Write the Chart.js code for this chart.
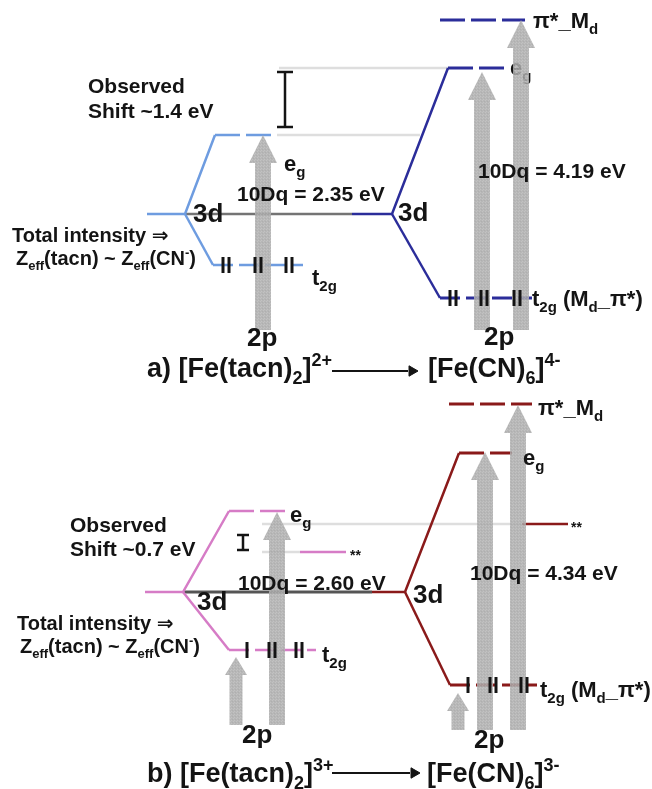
<!DOCTYPE html>
<html>
<head>
<meta charset="utf-8">
<script src="https://cdn.jsdelivr.net/npm/chart.js@4.4.1/dist/chart.umd.min.js"></script>
<style>
  html, body { margin: 0; padding: 0; background: #fff; }
  #wrap { width: 652px; height: 789px; position: relative; }
</style>
</head>
<body>
<div id="wrap"><canvas id="diagram"></canvas></div>
<script>
// Energy level diagram drawn on a scatter chart whose hidden axes span the
// whole canvas (x right, y down), so every level / arrow / label sits in
// diagram units.

// ---- panel a: [Fe(tacn)2]2+ -> [Fe(CN)6]4- ----
const aTacnUpper = [[147, 214], [185, 214], [215, 135]];
const aTacnLower = [[185, 214], [213, 265]];
const aTacnEg = [[215, 135], [277, 135]];
const aTacnT2g = [[213, 265], [303, 265]];
const a3dBridge = [[185, 214], [352, 214]];
const aCnUpper = [[352, 214], [392, 214], [448, 68]];
const aCnLower = [[392, 214], [440, 298]];
const aCnEg = [[448, 68], [505, 68]];
const aCnT2g = [[440, 298], [532, 298]];
const aCnPi = [[440, 20], [525, 20]];
const aGuides = [[[279, 68], [448, 68]], [[277, 135], [420, 135]]];
const aTacnElectrons = [[226, 265, 2], [258, 265, 2], [289, 265, 2]];
const aCnElectrons = [[453, 298, 2], [484, 298, 2], [517, 298, 2]];
const aArrows = [[263, 330, 135], [482, 330, 72], [521, 330, 20]];
const aShift = [285, 72, 127];
const aTitleArrow = [[332, 371], [408, 371]];

// ---- panel b: [Fe(tacn)2]3+ -> [Fe(CN)6]3- ----
const bTacnUpper = [[145, 592], [183, 592], [229, 511]];
const bTacnLower = [[183, 592], [229, 650]];
const bTacnEg = [[229, 511], [288, 511]];
const bTacnT2g = [[229, 650], [316, 650]];
const b3dBridge = [[183, 592], [372, 592]];
const bCnUpper = [[372, 592], [405, 592], [459, 453]];
const bCnLower = [[405, 592], [450, 685]];
const bCnEg = [[459, 453], [512, 453]];
const bCnT2g = [[450, 685], [537, 685]];
const bCnPi = [[449, 404], [532, 404]];
const bTacnStar = [[300, 552], [346, 552]];
const bCnStar = [[522, 524], [568, 524]];
const bGuides = [[[262, 524], [522, 524]], [[262, 552], [300, 552]]];
const bTacnElectrons = [[247, 650, 1], [272, 650, 2], [299, 650, 2]];
const bCnElectrons = [[468, 685, 1], [493, 685, 2], [524, 685, 2]];
const bArrows = [[236, 725, 657], [277, 725, 512], [458, 730, 693], [485, 730, 452], [518, 730, 405]];
const bShift = [243, 535, 550];
const bTitleArrow = [[332, 773], [410, 773]];

// ---- labels: text (with _{sub} / ^{sup}), x, baseline y, font kind ----
const labelsTop = [
  ['Observed', 88, 93, 'mid'],
  ['Shift ~1.4 eV', 88, 118, 'mid'],
  ['e_{g}', 284, 171, 'lvl'],
  ['10Dq = 2.35 eV', 237, 201, 'mid'],
  ['3d', 193, 222, 'big'],
  ['Total intensity \u21D2', 12, 242, 'note'],
  ['Z_{eff}(tacn) ~ Z_{eff}(CN^{-})', 16, 265, 'note'],
  ['t_{2g}', 312, 285, 'lvl'],
  ['2p', 247, 346, 'big'],
  ['\u03C0*_M_{d}', 533, 28, 'lvl'],
  ['10Dq = 4.19 eV', 478, 178, 'mid'],
  ['3d', 398, 221, 'big'],
  ['t_{2g} (M_{d}_\u03C0*)', 532, 306, 'lvl'],
  ['2p', 484, 345, 'big'],
  ['a) [Fe(tacn)_{2}]^{2+}', 147, 377, 'title'],
  ['[Fe(CN)_{6}]^{4-}', 428, 377, 'title'],
  ['Observed', 70, 532, 'mid'],
  ['Shift ~0.7 eV', 70, 556, 'mid'],
  ['e_{g}', 290, 522, 'lvl'],
  ['**', 350, 560, 'small'],
  ['10Dq = 2.60 eV', 238, 590, 'mid'],
  ['3d', 197, 610, 'big'],
  ['Total intensity \u21D2', 17, 630, 'note'],
  ['Z_{eff}(tacn) ~ Z_{eff}(CN^{-})', 20, 653, 'note'],
  ['t_{2g}', 322, 662, 'lvl'],
  ['2p', 242, 743, 'big'],
  ['\u03C0*_M_{d}', 538, 415, 'lvl'],
  ['e_{g}', 523, 465, 'lvl'],
  ['**', 571, 532, 'small'],
  ['10Dq = 4.34 eV', 470, 580, 'mid'],
  ['3d', 413, 603, 'big'],
  ['t_{2g} (M_{d}_\u03C0*)', 540, 697, 'lvl'],
  ['2p', 474, 748, 'big'],
  ['b) [Fe(tacn)_{2}]^{3+}', 147, 782, 'title'],
  ['[Fe(CN)_{6}]^{3-}', 427, 782, 'title'],
];
// labels that the gray excitation arrows cover
const labelsUnder = [
  ['e_{g}', 510, 75, 'lvl'],
];

const FONT = "'Liberation Sans', Arial, 'DejaVu Sans', sans-serif";
const FONT_SIZE = { mid: 21, note: 20, big: 26, lvl: 22, title: 27, small: 14 };
const INK = '#141414';
const C = {
  tacn2: '#6e9ce0', cn4: '#2b2d9a', tacn3: '#d67cc6', cn3: '#8a1a1a',
  bridgeA: '#747474', bridgeB: '#555555', guide: '#dedede',
};

const pts = (arr) => arr.map(([x, y]) => ({ x, y }));

function seg(points, color, width, dash) {
  return {
    type: 'scatter', data: pts(points), showLine: true, borderColor: color,
    borderWidth: width, borderDash: dash || [], pointRadius: 0, order: 3, tension: 0,
  };
}

// the I-shaped "observed shift" marker
function shiftBar([x, y0, y1], half) {
  return [
    seg([[x, y0], [x, y1]], INK, 2.5),
    seg([[x - half, y0], [x + half, y0]], INK, 2.5),
    seg([[x - half, y1], [x + half, y1]], INK, 2.5),
  ];
}

function electronPoints(sites) {
  const out = [];
  sites.forEach(([x, y, n]) => {
    if (n === 1) out.push({ x, y });
    else { out.push({ x: x - 3, y }); out.push({ x: x + 3, y }); }
  });
  return out;
}

const DASH = [25, 6];
const DASH_T2G = [20, 6];
const datasets = [
  // guides behind everything
  ...aGuides.map((g) => ({ ...seg(g, C.guide, 2.5), order: 6 })),
  ...bGuides.map((g) => ({ ...seg(g, C.guide, 2.5), order: 6 })),
  { ...seg(a3dBridge, C.bridgeA, 2.5), order: 5 },
  { ...seg(b3dBridge, C.bridgeB, 3), order: 5 },
  // panel a levels
  seg(aTacnUpper, C.tacn2, 2.5), seg(aTacnLower, C.tacn2, 2.5),
  seg(aTacnEg, C.tacn2, 2.5, DASH), seg(aTacnT2g, C.tacn2, 2.5, DASH_T2G),
  seg(aCnUpper, C.cn4, 2.5), seg(aCnLower, C.cn4, 2.5),
  seg(aCnEg, C.cn4, 3, DASH), seg(aCnT2g, C.cn4, 3, DASH_T2G), seg(aCnPi, C.cn4, 3, DASH),
  // panel b levels
  seg(bTacnUpper, C.tacn3, 2.5), seg(bTacnLower, C.tacn3, 2.5),
  seg(bTacnEg, C.tacn3, 2.5, DASH), seg(bTacnT2g, C.tacn3, 2.5, DASH_T2G),
  seg(bTacnStar, C.tacn3, 2.5),
  seg(bCnUpper, C.cn3, 2.5), seg(bCnLower, C.cn3, 2.5),
  seg(bCnEg, C.cn3, 3, DASH), seg(bCnT2g, C.cn3, 3, DASH_T2G), seg(bCnPi, C.cn3, 3, DASH),
  seg(bCnStar, C.cn3, 2.5),
  // shift markers and the reaction arrows under the titles
  ...shiftBar(aShift, 8), ...shiftBar(bShift, 6),
  seg(aTitleArrow, INK, 2), seg(bTitleArrow, INK, 2),
  {
    type: 'scatter', order: 3, pointStyle: 'triangle', rotation: 90, pointRadius: 6,
    backgroundColor: INK, borderColor: INK, borderWidth: 1,
    data: [aTitleArrow[1], bTitleArrow[1]].map(([x, y]) => ({ x: x + 4, y })),
  },
  // electrons (drawn last, above the excitation arrows)
  {
    type: 'scatter', role: 'electrons', order: 1, pointStyle: 'line', rotation: 90,
    pointRadius: 8, borderWidth: 3, borderColor: INK,
    data: electronPoints([...aTacnElectrons, ...aCnElectrons, ...bTacnElectrons, ...bCnElectrons]),
  },
];

function drawRich(ctx, text, x, y, size) {
  const parts = [];
  const re = /([_^])\{([^}]*)\}/g;
  let last = 0, m;
  while ((m = re.exec(text))) {
    if (m.index > last) parts.push([text.slice(last, m.index), 0]);
    parts.push([m[2], m[1] === '_' ? 1 : -1]);
    last = re.lastIndex;
  }
  if (last < text.length) parts.push([text.slice(last), 0]);
  let cx = x;
  parts.forEach(([t, k]) => {
    const s = k === 0 ? size : Math.round(size * 0.66);
    ctx.font = `bold ${s}px ${FONT}`;
    const dy = k === 1 ? size * 0.25 : k === -1 ? -size * 0.42 : 0;
    ctx.fillText(t, cx, y + dy);
    cx += ctx.measureText(t).width;
  });
}

function drawLabels(chart, list) {
  const { ctx, scales: { x, y } } = chart;
  ctx.save();
  ctx.fillStyle = INK;
  ctx.textBaseline = 'alphabetic';
  list.forEach(([t, lx, ly, kind]) => {
    drawRich(ctx, t, x.getPixelForValue(lx), y.getPixelForValue(ly), FONT_SIZE[kind]);
  });
  ctx.restore();
}

let stipple = null;
function arrowFill(ctx) {
  if (!stipple) {
    const p = document.createElement('canvas');
    p.width = 3; p.height = 3;
    const g = p.getContext('2d');
    g.fillStyle = '#acacac'; g.fillRect(0, 0, 3, 3);
    g.fillStyle = '#b9b9b9'; g.fillRect(0, 0, 1, 1); g.fillRect(2, 1, 1, 1);
    g.fillStyle = '#a2a2a2'; g.fillRect(1, 2, 1, 1);
    stipple = ctx.createPattern(p, 'repeat');
  }
  return stipple;
}

function drawArrows(chart, list) {
  const { ctx, scales: { x, y } } = chart;
  ctx.save();
  ctx.globalAlpha = 0.86;
  ctx.fillStyle = arrowFill(ctx);
  list.forEach(([ax, y0, y1]) => {
    const px = x.getPixelForValue(ax);
    const pb = y.getPixelForValue(y0), pt = y.getPixelForValue(y1);
    const len = pb - pt;
    const small = len < 100;
    const shaft = small ? 13 : 16, head = small ? 22 : 28, hl = small ? 18 : 28;
    ctx.beginPath();
    ctx.moveTo(px - shaft / 2, pb);
    ctx.lineTo(px - shaft / 2, pt + hl);
    ctx.lineTo(px - head / 2, pt + hl);
    ctx.lineTo(px, pt);
    ctx.lineTo(px + head / 2, pt + hl);
    ctx.lineTo(px + shaft / 2, pt + hl);
    ctx.lineTo(px + shaft / 2, pb);
    ctx.closePath();
    ctx.fill();
  });
  ctx.restore();
}

const diagramPlugin = {
  id: 'diagram',
  beforeDatasetDraw(chart, args) {
    if (chart.data.datasets[args.index].role !== 'electrons') return;
    drawLabels(chart, labelsUnder);
    drawArrows(chart, [...aArrows, ...bArrows]);
  },
  afterDatasetsDraw(chart) {
    drawLabels(chart, labelsTop);
  },
};

new Chart(document.getElementById('diagram'), {
  type: 'scatter',
  data: { datasets },
  options: {
    responsive: true,
    maintainAspectRatio: false,
    animation: false,
    layout: { padding: 0, autoPadding: false },
    plugins: { legend: { display: false }, tooltip: { enabled: false } },
    events: [],
    scales: {
      x: { type: 'linear', min: 0, max: 652, display: false },
      y: { type: 'linear', min: 0, max: 789, reverse: true, display: false },
    },
  },
  plugins: [diagramPlugin],
});
</script>
</body>
</html>
